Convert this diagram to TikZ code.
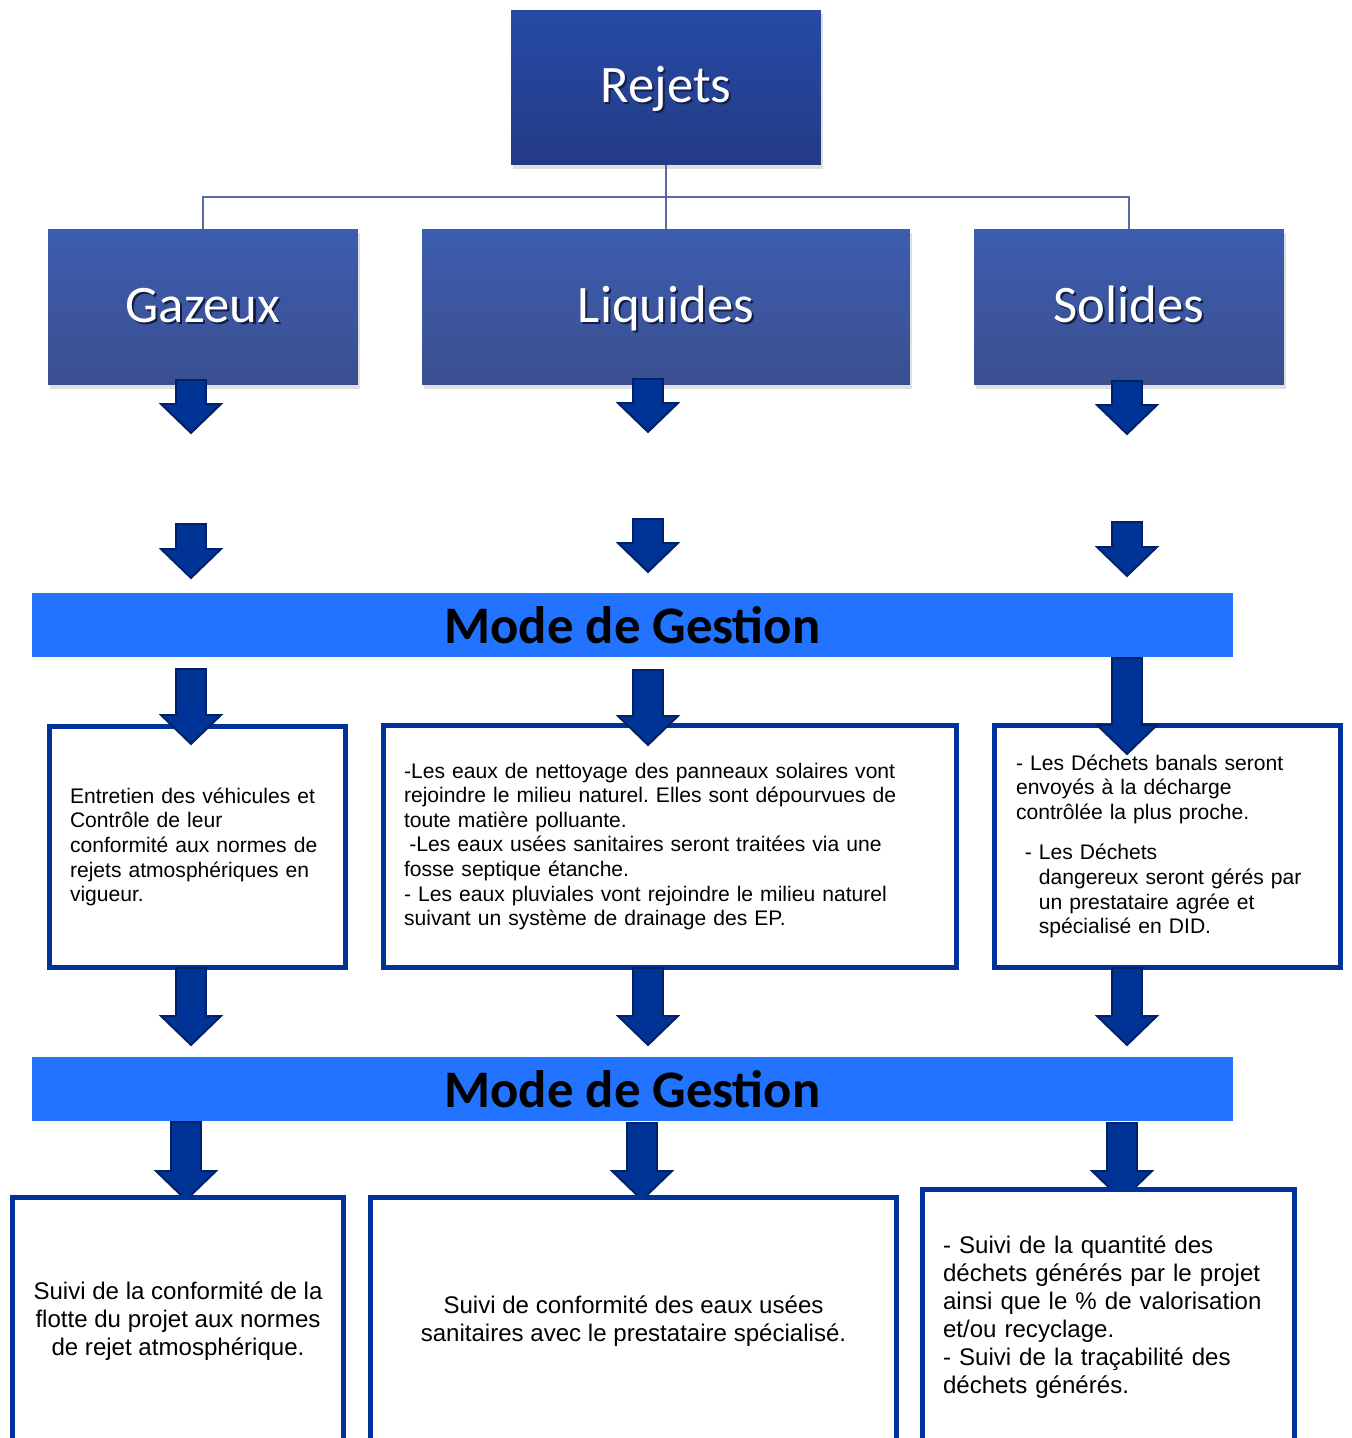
\documentclass[tikz,border=0pt]{standalone}
\usepackage{fontspec}
\setmainfont{Liberation Sans}
\newfontfamily\titlefont{Carlito}
\frenchspacing
\usetikzlibrary{shadows}
\definecolor{roottop}{RGB}{38,74,166}
\definecolor{rootbot}{RGB}{36,59,133}
\definecolor{cattop}{RGB}{61,93,176}
\definecolor{catbot}{RGB}{59,79,143}
\definecolor{linkblue}{RGB}{90,106,168}
\definecolor{bandblue}{RGB}{34,115,255}
\definecolor{frameblue}{RGB}{0,51,153}
\definecolor{arrowfill}{RGB}{0,51,150}
\definecolor{arrowedge}{RGB}{0,34,100}
\definecolor{titleshade}{RGB}{20,30,70}
\newcommand{\shadowed}[1]{\makebox[0pt][l]{\hspace{1.2pt}\raisebox{-1.2pt}{\color{titleshade}#1}}#1}
\tikzset{
  rootbox/.style={top color=roottop, bottom color=rootbot, text=white, inner sep=0pt,
    font=\titlefont\fontsize{30}{36}\selectfont, text height=22pt, text depth=4.8pt,
    drop shadow={shadow xshift=1pt, shadow yshift=-2pt, opacity=.25}},
  catbox/.style={rootbox, top color=cattop, bottom color=catbot},
  link/.style={draw=linkblue, line width=1.2pt},
  band/.style={fill=bandblue, inner sep=0pt, minimum width=24.02cm, minimum height=1.28cm,
    font=\titlefont\bfseries\fontsize{30}{36}\selectfont},
  textframe/.style={draw=frameblue, fill=white, line width=2.8pt, inner sep=0pt},
  midtext/.style={textframe, align=left, font=\fontsize{12}{14}\selectfont},
  lowtext/.style={textframe, font=\fontsize{13.7}{15.9}\selectfont},
  blockarrow/.style={fill=arrowfill, draw=arrowedge, line width=1.1pt},
}
\begin{document}
\begin{tikzpicture}[x=0.02cm,y=-0.02cm]
  \useasboundingbox (0,0) rectangle (1352,1438);
  \clip (0,0) rectangle (1352,1438);
  % tree of the discharges
  \node[rootbox, minimum width=6.2cm, minimum height=3.1cm] (rejets) at (666,87.5) {\shadowed{Rejets}};
  \node[catbox, minimum width=6.2cm, minimum height=3.12cm] (gazeux) at (203,307) {\shadowed{Gazeux}};
  \node[catbox, minimum width=9.76cm, minimum height=3.12cm] (liquides) at (666,307) {\shadowed{Liquides}};
  \node[catbox, minimum width=6.2cm, minimum height=3.12cm] (solides) at (1129,307) {\shadowed{Solides}};
  \coordinate (bus) at (666,197);
  \draw[link] (rejets.south) -- (liquides.north);
  \draw[link] (gazeux.north) |- (bus) -| (solides.north);
  % arrows under the categories
  \foreach \x/\t/\b in {191/380/433, 648/379/432, 1127/381/434, 191/524/578, 648/519/572, 1127/522/576}
    \draw[blockarrow] (\x-15,\t) -- (\x+15,\t) -- (\x+15,\b-29) -- (\x+30,\b-29) -- (\x,\b) -- (\x-30,\b-29) -- (\x-15,\b-29) -- cycle;
  % first management band
  \node[band] (gestion1) at (632.5,625) {Mode de Gestion};
  \node[midtext, minimum width=5.92cm, minimum height=4.82cm, text width=5.1cm] (gazmode) at (197.5,847)
    {Entretien des véhicules et\\Contrôle de leur\\conformité aux normes de\\rejets atmosphériques en\\vigueur.};
  \node[midtext, minimum width=11.46cm, minimum height=4.84cm, text width=10.64cm] (liqmode) at (670,846.5)
    {-Les eaux de nettoyage des panneaux solaires vont\\rejoindre le milieu naturel. Elles sont dépourvues de\\toute matière polluante.\\
     \hspace*{3pt}-Les eaux usées sanitaires seront traitées via une\\fosse septique étanche.\\- Les eaux pluviales vont rejoindre le milieu naturel\\suivant un système de drainage des EP.};
  \node[midtext, minimum width=6.92cm, minimum height=4.84cm, text width=6.06cm] (solmode) at (1167.5,846.5)
    {- Les Déchets banals seront\\envoyés à la décharge\\contrôlée la plus proche.\\[9pt]
     \hspace*{5pt}- Les Déchets\\\hspace*{13pt}dangereux seront gérés par\\\hspace*{13pt}un prestataire agrée et\\\hspace*{13pt}spécialisé en DID.};
  \foreach \x/\t/\b in {191/669/744, 648/670/745, 1127/658/754, 191/968/1045, 648/968/1045, 1127/968/1045}
    \draw[blockarrow] (\x-15,\t) -- (\x+15,\t) -- (\x+15,\b-29) -- (\x+30,\b-29) -- (\x,\b) -- (\x-30,\b-29) -- (\x-15,\b-29) -- cycle;
  % second management band
  \node[band] (gestion2) at (632.5,1089) {Mode de Gestion};
  \foreach \x/\t/\b in {186/1122/1200, 642/1123/1200, 1122/1123/1200}
    \draw[blockarrow] (\x-15,\t) -- (\x+15,\t) -- (\x+15,\b-29) -- (\x+30,\b-29) -- (\x,\b) -- (\x-30,\b-29) -- (\x-15,\b-29) -- cycle;
  \node[lowtext, align=center, minimum width=6.62cm, minimum height=4.95cm] (gazsuivi) at (178,1321)
    {Suivi de la conformité de la\\flotte du projet aux normes\\de rejet atmosphérique.};
  \node[lowtext, align=center, minimum width=10.52cm, minimum height=4.95cm] (liqsuivi) at (633.5,1321)
    {Suivi de conformité des eaux usées\\sanitaires avec le prestataire spécialisé.};
  \node[lowtext, align=left, text width=6.62cm, minimum width=7.44cm, minimum height=5.11cm] (solsuivi) at (1108.5,1317)
    {- Suivi de la quantité des\\déchets générés par le projet\\ainsi que le \% de valorisation\\et/ou recyclage.\\- Suivi de la traçabilité des\\déchets générés.};
\end{tikzpicture}
\end{document}
